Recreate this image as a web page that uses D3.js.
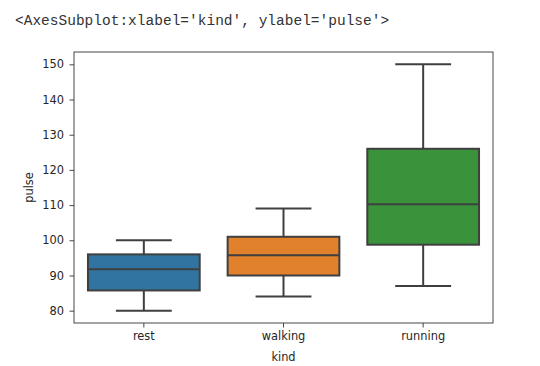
<!DOCTYPE html>
<html><head><meta charset="utf-8">
<script src="https://cdn.jsdelivr.net/npm/d3@7"></script>
<style>body{margin:0;background:#fff;}svg{display:block;}</style>
</head><body>
<svg id="c" width="540" height="366"></svg>
<script>
const categories = ["rest", "walking", "running"];
const whiskerLow = [80, 84, 87];
const q1 = [85.75, 90, 98.75];
const median = [91.75, 95.75, 110.25];
const q3 = [96, 101, 126];
const whiskerHigh = [100, 109, 150];
const colors = ["#3274a1", "#e1812c", "#3a923a"];
const yTicks = [80, 90, 100, 110, 120, 130, 140, 150];

const svg = d3.select("#c");
const L = 74, R = 493, T = 52, B = 323;
const x = d3.scaleBand().domain(categories).range([L, R]).paddingInner(0).paddingOuter(0);
const y = d3.scaleLinear().domain([76.5, 153.5]).range([B, T]);
const bw = x.bandwidth() * 0.8;
const lineCol = "#3f3f3f";
const fs = 11.4;

svg.append("text").attr("x", 15).attr("y", 25)
  .attr("font-family", "Liberation Mono, monospace").attr("font-size", 14.5)
  .attr("fill", "#333").text("<AxesSubplot:xlabel='kind', ylabel='pulse'>");

const g = svg.append("g");
categories.forEach((c, i) => {
  const cx = x(c) + x.bandwidth() / 2;
  g.append("line").attr("x1", cx).attr("x2", cx).attr("y1", y(whiskerHigh[i])).attr("y2", y(q3[i]))
    .attr("stroke", lineCol).attr("stroke-width", 2);
  g.append("line").attr("x1", cx).attr("x2", cx).attr("y1", y(q1[i])).attr("y2", y(whiskerLow[i]))
    .attr("stroke", lineCol).attr("stroke-width", 2);
  [whiskerHigh[i], whiskerLow[i]].forEach(v => {
    g.append("line").attr("x1", cx - bw / 4).attr("x2", cx + bw / 4).attr("y1", y(v)).attr("y2", y(v))
      .attr("stroke", lineCol).attr("stroke-width", 2);
  });
  g.append("rect").attr("x", cx - bw / 2).attr("width", bw).attr("y", y(q3[i])).attr("height", y(q1[i]) - y(q3[i]))
    .attr("fill", colors[i]).attr("stroke", lineCol).attr("stroke-width", 2);
  g.append("line").attr("x1", cx - bw / 2).attr("x2", cx + bw / 2).attr("y1", y(median[i])).attr("y2", y(median[i]))
    .attr("stroke", lineCol).attr("stroke-width", 2);
});

const xAxis = svg.append("g").attr("transform", `translate(0,${B})`)
  .call(d3.axisBottom(x).tickSize(4.5).tickPadding(4));
const yAxis = svg.append("g").attr("transform", `translate(${L},0)`)
  .call(d3.axisLeft(y).tickValues(yTicks).tickSize(4.5).tickPadding(5.5));
[xAxis, yAxis].forEach(a => {
  a.select(".domain").remove();
  a.selectAll("line").attr("stroke", "#333").attr("stroke-width", 0.9);
  a.selectAll("text").attr("font-family", "DejaVu Sans, sans-serif").attr("font-size", fs).attr("fill", "#262626");
});

svg.append("rect").attr("x", L).attr("y", T).attr("width", R - L).attr("height", B - T)
  .attr("fill", "none").attr("stroke", "#333").attr("stroke-width", 0.9);

svg.append("text").attr("x", x("walking") + x.bandwidth() / 2).attr("y", 361).attr("text-anchor", "middle")
  .attr("font-family", "DejaVu Sans, sans-serif").attr("font-size", fs).attr("fill", "#262626").text("kind");
svg.append("text").attr("transform", `translate(33,${(T + B) / 2}) rotate(-90)`).attr("text-anchor", "middle")
  .attr("font-family", "DejaVu Sans, sans-serif").attr("font-size", fs).attr("fill", "#262626").text("pulse");
</script>
</body></html>
